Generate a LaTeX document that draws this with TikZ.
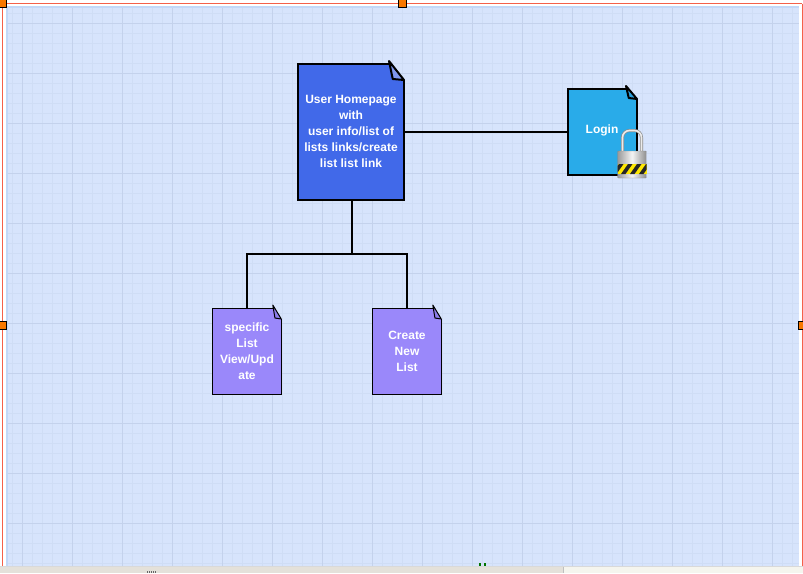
\documentclass[tikz,border=0pt]{standalone}
\usepackage{fontspec}
\setmainfont{Liberation Sans}
\definecolor{canvas}{HTML}{D7E4FC}
\definecolor{gridminor}{HTML}{CFDDF5}
\definecolor{gridmajor}{HTML}{C4D2EC}
\definecolor{band}{HTML}{C2D8F8}
\definecolor{redline}{HTML}{F4604A}
\definecolor{handle}{HTML}{F87800}
\definecolor{homeblue}{HTML}{4169E9}
\definecolor{homefold}{HTML}{8098EE}
\definecolor{loginblue}{HTML}{29ABE9}
\definecolor{loginfold}{HTML}{2C9FDC}
\definecolor{purp}{HTML}{9A88FA}
\definecolor{purpfold}{HTML}{8E7EEA}
\definecolor{barl}{HTML}{E4E1DA}
\definecolor{barr}{HTML}{F5F5EE}
\tikzset{
  x=1pt,y=-1pt,
  pagebox/.style={rectangle,inner sep=0pt,outer sep=0pt,text=white,align=center,
    font=\bfseries\fontsize{12}{16}\selectfont},
  wire/.style={draw=black,line width=2pt},
  sel/.style={draw=black,fill=handle,line width=1pt},
  redl/.style={draw=redline,line width=1pt}
}
% #1 node, #2 fill, #3 fold fill, #4 line width, #5 fold w, #6 fold h
\newcommand{\pageoutline}[6]{%
  \fill[#2] (#1.north west) -- ([xshift=-#5pt]#1.north east) -- ([yshift=-#6pt]#1.north east) -- (#1.south east) -- (#1.south west) -- cycle;
  \draw[black,line width=#4,line join=miter] ([xshift=-#5pt]#1.north east) -- (#1.north west) -- (#1.south west) -- (#1.south east) -- ([yshift=-#6pt]#1.north east);
  \filldraw[draw=black,fill=#3,line width=#4,line join=round]
    ([xshift=-#5pt,yshift=3pt]#1.north east) -- ([yshift=-#6pt]#1.north east)
    -- ([xshift=-0.75*#5 pt,yshift=-#6pt+1pt]#1.north east) -- cycle;
}
\begin{document}
\begin{tikzpicture}
\useasboundingbox (0,0) rectangle (803,573);
\fill[white] (0,0) rectangle (803,573);
\fill[canvas] (6,6) rectangle (799,566);
\fill[band] (6,6) rectangle (8,566);
\fill[band] (6,6) rectangle (799,8);
% grid
\foreach \i in {1,...,79}{\draw[gridminor,line width=0.6pt] ({2.7+10*\i},8) -- ({2.7+10*\i},566);}
\foreach \i in {0,...,55}{\draw[gridminor,line width=0.6pt] (8,{13+10*\i}) -- (799,{13+10*\i});}
\foreach \i in {0,...,15}{\draw[gridmajor,line width=0.8pt] ({22.7+50*\i},8) -- ({22.7+50*\i},566);}
\foreach \i in {0,...,10}{\draw[gridmajor,line width=0.8pt] (8,{23+50*\i}) -- (799,{23+50*\i});}
% selection frame
\draw[redl] (2.5,3.5) -- (802,3.5);
\draw[redl] (2.5,3.5) -- (2.5,566);
\draw[redl] (802,3.5) -- (802,566);
\draw[sel] (-2,-2) rectangle (6.5,7);
\draw[sel] (398.5,-2) rectangle (406.5,7);
\draw[sel] (-2,321.5) rectangle (6.5,329.5);
\draw[sel] (798.5,321.5) rectangle (806,329.5);
% bottom bars
\fill[barl] (0,566.5) rectangle (563,573);
\fill[barr] (563,566.5) rectangle (803,573);
\draw[black!15,line width=0.7pt] (0,566.5) -- (803,566.5);
\draw[black!25,line width=0.7pt] (563,566.5) -- (563,573);
\foreach \gx in {146.5,148.5,150.5,152.5,154.5}{\fill[black!60] (\gx,570.5) rectangle ++(0.9,2.5);}
\foreach \gx in {478.5,483.5}{\fill[green!45!black] (\gx,562.5) rectangle ++(2,3);}
% nodes
\node[pagebox,minimum width=106pt,minimum height=136pt] (home) at (351,132) {};
\node[pagebox,minimum width=69pt,minimum height=86pt] (login) at (602.5,132) {};
\node[pagebox,minimum width=68.6pt,minimum height=86pt] (spec) at (247,351) {};
\node[pagebox,minimum width=68.6pt,minimum height=86pt] (create) at (407,351) {};
\coordinate (bus) at (352,254);
% connectors
\draw[wire] (home.east) -- (login.west);
\draw[wire] (bus |- home.south) -- (bus);
\draw[wire] (spec.north) |- (bus) -| (create.north);
% pages
\pageoutline{home}{homeblue}{homefold}{2pt}{15}{16}
\pageoutline{login}{loginblue}{loginfold}{2pt}{11}{10}
\pageoutline{spec}{purp}{purpfold}{1pt}{8.5}{11}
\pageoutline{create}{purp}{purpfold}{1pt}{8.5}{11}
\node[pagebox,yshift=1pt] (hometext) at (home.center) {User Homepage\\with\\user info/list of\\lists links/create\\list list link};
\node[pagebox] (spectext) at (spec.center) {specific\\List\\View/Upd\\ate};
\node[pagebox] (createtext) at (create.center) {Create\\New\\List};
\node[pagebox] (logintext) at (602,130) {Login};
% padlock
\draw[line width=3pt,black!45,rounded corners=7pt] (622.5,152) -- (622.5,130.5) -- (641.5,130.5) -- (641.5,152);
\draw[line width=1.6pt,black!8,rounded corners=7pt] (622.5,152) -- (622.5,130.5) -- (641.5,130.5) -- (641.5,152);
\shade[left color=black!40,right color=black!45,middle color=black!4,rounded corners=1pt,draw=black!45,line width=0.4pt] (617.5,151) rectangle (646.5,178);
\fill[yellow!90!orange] (617.5,164) rectangle (646.5,174);
\begin{scope}
\clip (617.5,164) rectangle (646.5,174);
\foreach \sx in {612,621,630,639,648}{\fill[black!85] (\sx,174) -- ++(4.5,0) -- ++(7,-10) -- ++(-4.5,0) -- cycle;}
\end{scope}
\end{tikzpicture}
\end{document}
